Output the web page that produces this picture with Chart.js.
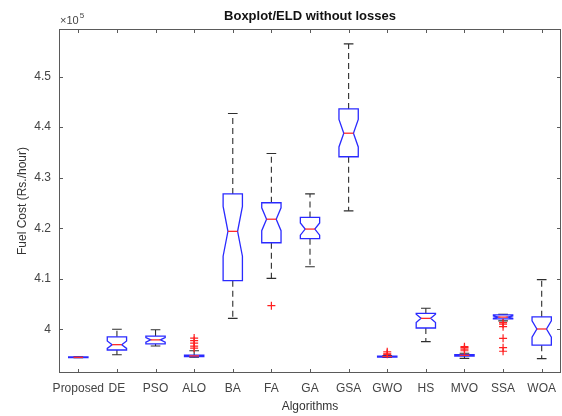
<!DOCTYPE html>
<html>
<head>
<meta charset="utf-8">
<script src="https://cdn.jsdelivr.net/npm/chart.js@4.4.1/dist/chart.umd.min.js"></script>
<style>
  html, body { margin: 0; padding: 0; background: #fff; }
  #wrap { width: 562px; height: 416px; }
</style>
</head>
<body>
<div id="wrap"><canvas id="boxChart" width="562" height="416"></canvas></div>
<script>
const algorithms = ["Proposed", "DE", "PSO", "ALO", "BA", "FA", "GA", "GSA", "GWO", "HS", "MVO", "SSA", "WOA"];

// box statistics per algorithm (Rs./hour)
const whiskerLow  = [394400, 395000, 396750, 394500, 402200, 410100, 412400, 423450, 394450, 397600, 394300, 401700, 394250];
const quartile1   = [394450, 395950, 397150, 394650, 409650, 417150, 417950, 434150, 394560, 400300, 394750, 402100, 396900];
const medians     = [394500, 397000, 397950, 394780, 419400, 421800, 419850, 438800, 394650, 402200, 394900, 402450, 400100];
const quartile3   = [394560, 398550, 398700, 394950, 426800, 425050, 422150, 443600, 394720, 403200, 395050, 402900, 402500];
const whiskerHigh = [394600, 400050, 399950, 395800, 442700, 434800, 426800, 456450, 394850, 404200, 395300, 403000, 409850];
const outliers = [
  [], [], [],
  [396300, 396700, 397300, 397800, 398300],
  [],
  [404700],
  [], [],
  [395100, 395300, 395600],
  [],
  [395800, 396100, 396400, 396600],
  [401350, 401050, 400550, 398250, 396400, 395700],
  []
];
const yTicks = [400000, 410000, 420000, 430000, 440000, 450000];
const runs = 30;

const outlierPoints = [];
outliers.forEach((list, i) => list.forEach((v) => outlierPoints.push({ x: i + 1, y: v })));

const axisColor = "#5a5a5a";
const textColor = "#444";

const boxPlugin = {
  id: "boxes",
  beforeDatasetsDraw(chart) {
    const c = chart.ctx;
    const xs = chart.scales.x;
    const ys = chart.scales.y;
    const area = chart.chartArea;
    const boxW = 0.5;

    c.save();
    c.beginPath();
    c.rect(area.left, area.top, area.right - area.left, area.bottom - area.top);
    c.clip();

    algorithms.forEach((name, i) => {
      const pos = i + 1;
      const l = xs.getPixelForValue(pos - boxW / 2);
      const r = xs.getPixelForValue(pos + boxW / 2);
      const cx = xs.getPixelForValue(pos);
      const inL = xs.getPixelForValue(pos - boxW / 4);
      const inR = xs.getPixelForValue(pos + boxW / 4);

      const iqr = quartile3[i] - quartile1[i];
      const notch = 1.57 * iqr / Math.sqrt(runs);
      const yQ1 = ys.getPixelForValue(quartile1[i]);
      const yQ3 = ys.getPixelForValue(quartile3[i]);
      const yMed = ys.getPixelForValue(medians[i]);
      const yNLo = ys.getPixelForValue(medians[i] - notch);
      const yNHi = ys.getPixelForValue(medians[i] + notch);
      const yLo = ys.getPixelForValue(whiskerLow[i]);
      const yHi = ys.getPixelForValue(whiskerHigh[i]);

      // dashed whiskers with end caps
      c.strokeStyle = "#2e2e2e";
      c.lineWidth = 1.1;
      c.setLineDash([6, 4]);
      c.beginPath();
      c.moveTo(cx, yQ3);
      c.lineTo(cx, yHi);
      c.moveTo(cx, yQ1);
      c.lineTo(cx, yLo);
      c.stroke();
      c.setLineDash([]);
      c.beginPath();
      c.moveTo(inL, yHi);
      c.lineTo(inR, yHi);
      c.moveTo(inL, yLo);
      c.lineTo(inR, yLo);
      c.stroke();

      // notched box
      c.strokeStyle = "#2a2aff";
      c.lineWidth = 1.3;
      c.beginPath();
      c.moveTo(l, yQ1);
      c.lineTo(l, yNLo);
      c.lineTo(inL, yMed);
      c.lineTo(l, yNHi);
      c.lineTo(l, yQ3);
      c.lineTo(r, yQ3);
      c.lineTo(r, yNHi);
      c.lineTo(inR, yMed);
      c.lineTo(r, yNLo);
      c.lineTo(r, yQ1);
      c.closePath();
      c.stroke();

      // median
      c.strokeStyle = "#ff2a2a";
      c.beginPath();
      c.moveTo(inL, yMed);
      c.lineTo(inR, yMed);
      c.stroke();
    });
    c.restore();
  },
  afterDraw(chart) {
    const c = chart.ctx;
    const xs = chart.scales.x;
    const ys = chart.scales.y;
    const a = chart.chartArea;
    const tick = 4;

    c.save();
    c.strokeStyle = axisColor;
    c.lineWidth = 1;
    c.strokeRect(a.left + 0.5, a.top + 0.5, a.right - a.left - 1, a.bottom - a.top - 1);

    // inward ticks on all four sides
    c.beginPath();
    algorithms.forEach((name, i) => {
      const x = Math.round(xs.getPixelForValue(i + 1)) + 0.5;
      c.moveTo(x, a.bottom);
      c.lineTo(x, a.bottom - tick);
      c.moveTo(x, a.top);
      c.lineTo(x, a.top + tick);
    });
    yTicks.forEach((v) => {
      const y = Math.round(ys.getPixelForValue(v)) + 0.5;
      c.moveTo(a.left, y);
      c.lineTo(a.left + tick, y);
      c.moveTo(a.right, y);
      c.lineTo(a.right - tick, y);
    });
    c.stroke();

    // exponent above the y axis
    c.fillStyle = textColor;
    c.textBaseline = "alphabetic";
    c.textAlign = "left";
    c.font = "11px 'Liberation Sans', Arial, sans-serif";
    c.fillText("\u00d710", a.left + 1, a.top - 5);
    const w = c.measureText("\u00d710").width;
    c.font = "8px 'Liberation Sans', Arial, sans-serif";
    c.fillText("5", a.left + 1 + w + 1, a.top - 11);

    // title
    c.fillStyle = "#111";
    c.font = "bold 13px 'Liberation Sans', Arial, sans-serif";
    c.textAlign = "center";
    c.fillText("Boxplot/ELD without losses", (a.left + a.right) / 2, a.top - 9);
    c.restore();
  }
};

const ctx = document.getElementById("boxChart").getContext("2d");

new Chart(ctx, {
  type: "scatter",
  data: {
    datasets: [
      {
        label: "outliers",
        data: outlierPoints,
        pointStyle: "cross",
        pointRadius: 4,
        borderColor: "#ff2020",
        borderWidth: 1.2,
        backgroundColor: "#ff2020",
      },
    ],
  },
  plugins: [boxPlugin],
  options: {
    responsive: false,
    animation: false,
    layout: {
      autoPadding: false,
      padding: { top: 29, right: 1, left: 0, bottom: 0 },
    },
    plugins: {
      legend: { display: false },
      tooltip: { enabled: false },
    },
    scales: {
      x: {
        type: "linear",
        min: 0.5,
        max: 13.5,
        afterFit(scale) {
          scale.height = 43;
          scale.paddingLeft = 0;
          scale.paddingRight = 0;
        },
        afterBuildTicks(scale) {
          scale.ticks = algorithms.map((n, i) => ({ value: i + 1 }));
        },
        grid: { display: false, drawTicks: false },
        border: { display: false },
        ticks: {
          autoSkip: false,
          maxRotation: 0,
          padding: 8,
          color: textColor,
          font: { family: "'Liberation Sans', Arial, sans-serif", size: 12 },
          callback: (v) => algorithms[v - 1],
        },
        title: {
          display: true,
          text: "Algorithms",
          color: "#333",
          padding: { top: 0, bottom: 2 },
          font: { family: "'Liberation Sans', Arial, sans-serif", size: 12 },
        },
      },
      y: {
        min: 391400,
        max: 459400,
        afterFit(scale) {
          scale.width = 59;
          scale.paddingTop = 0;
          scale.paddingBottom = 0;
        },
        afterBuildTicks(scale) {
          scale.ticks = yTicks.map((v) => ({ value: v }));
        },
        grid: { display: false, drawTicks: false },
        border: { display: false },
        ticks: {
          padding: 8,
          color: textColor,
          font: { family: "'Liberation Sans', Arial, sans-serif", size: 12 },
          callback: (v) => String(Number((v / 1e5).toFixed(1))),
        },
        title: {
          display: true,
          text: "Fuel Cost (Rs./hour)",
          color: "#333",
          padding: { top: 15, bottom: 0 },
          font: { family: "'Liberation Sans', Arial, sans-serif", size: 12 },
        },
      },
    },
  },
});
</script>
</body>
</html>
